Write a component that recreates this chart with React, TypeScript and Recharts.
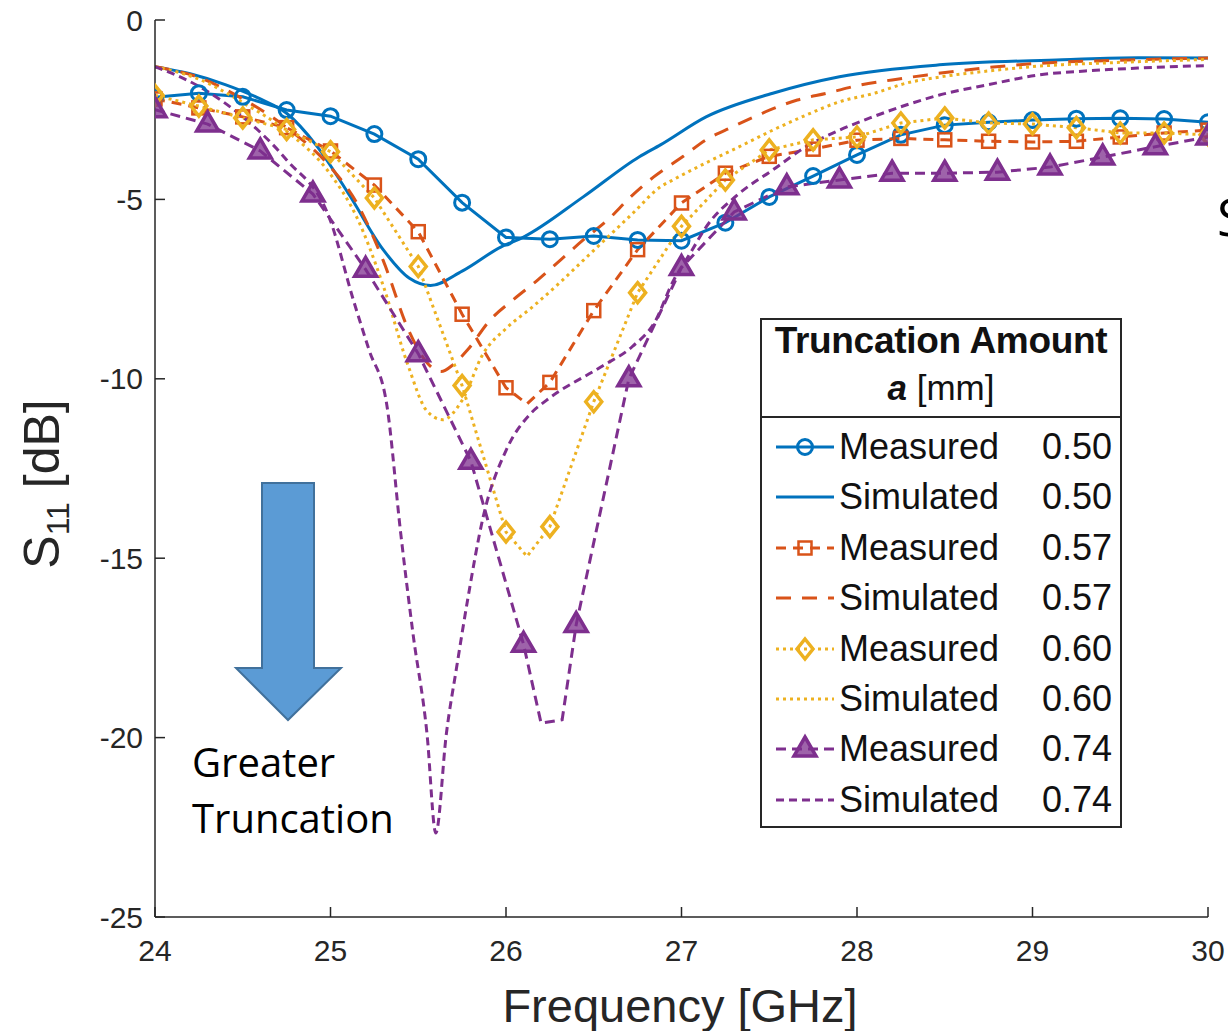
import React from 'react';
import { LineChart, Line, XAxis, YAxis } from 'recharts';

const W = 1228;
const H = 1031;

// axis ticks
const xTicks = [24, 25, 26, 27, 28, 29, 30];
const yTicks = [-25, -20, -15, -10, -5, 0];

// measured a = 0.50, markers every 0.25 GHz
const measFreq = [24, 24.25, 24.5, 24.75, 25, 25.25, 25.5, 25.75, 26, 26.25, 26.5, 26.75, 27, 27.25, 27.5, 27.75, 28, 28.25, 28.5, 28.75, 29, 29.25, 29.5, 29.75, 30];
const meas050 = [-2.15, -2.04, -2.14, -2.51, -2.68, -3.18, -3.88, -5.09, -6.06, -6.11, -6.02, -6.13, -6.15, -5.65, -4.93, -4.35, -3.76, -3.2, -2.93, -2.85, -2.79, -2.75, -2.74, -2.76, -2.85];

// measured a = 0.57 / 0.60 (extra point in the dip, no marker)
const measFreqDip = [24, 24.25, 24.5, 24.75, 25, 25.25, 25.5, 25.75, 26, 26.12, 26.25, 26.5, 26.75, 27, 27.25, 27.5, 27.75, 28, 28.25, 28.5, 28.75, 29, 29.25, 29.5, 29.75, 30];
const meas057 = [-2.2, -2.45, -2.7, -3.0, -3.65, -4.6, -5.9, -8.2, -10.25, -10.7, -10.1, -8.1, -6.4, -5.1, -4.27, -3.8, -3.6, -3.35, -3.3, -3.34, -3.38, -3.4, -3.38, -3.26, -3.15, -3.07];
const meas060 = [-2.1, -2.4, -2.73, -3.05, -3.67, -4.96, -6.87, -10.19, -14.27, -14.95, -14.12, -10.64, -7.6, -5.75, -4.46, -3.62, -3.34, -3.26, -2.87, -2.73, -2.87, -2.9, -3.0, -3.15, -3.15, -3.2];

// measured a = 0.74, markers every 0.3 GHz
const meas074Freq = [24, 24.3, 24.6, 24.9, 25.2, 25.5, 25.8, 26.1, 26.2, 26.32, 26.4, 26.7, 27, 27.3, 27.6, 27.9, 28.2, 28.5, 28.8, 29.1, 29.4, 29.7, 30];
const meas074 = [-2.5, -2.9, -3.65, -4.85, -6.95, -9.3, -12.3, -17.4, -19.6, -19.5, -16.85, -10.0, -6.9, -5.35, -4.65, -4.46, -4.27, -4.27, -4.24, -4.1, -3.82, -3.53, -3.26];

// simulated
const sim050Freq = [24, 24.2, 24.4, 24.6, 24.75, 24.92, 25.11, 25.3, 25.45, 25.57, 25.75, 25.97, 26.1, 26.44, 26.76, 26.88, 27.14, 27.52, 27.9, 28.47, 29.17, 29.6, 30];
const sim050 = [-1.3, -1.5, -1.8, -2.2, -2.6, -3.5, -4.9, -6.4, -7.2, -7.4, -7.0, -6.33, -6.05, -4.93, -3.81, -3.48, -2.7, -2.04, -1.58, -1.25, -1.11, -1.05, -1.06];

const sim057Freq = [24, 24.25, 24.5, 24.75, 25, 25.15, 25.3, 25.45, 25.55, 25.63, 25.7, 25.78, 25.91, 26.04, 26.18, 26.31, 26.44, 26.58, 26.71, 26.84, 27.01, 27.14, 27.29, 27.46, 27.66, 27.83, 28.02, 28.2, 28.4, 28.7, 29, 29.5, 30];
const sim057 = [-1.3, -1.6, -2.2, -3.0, -4.1, -5.1, -6.7, -8.7, -9.55, -9.8, -9.6, -9.2, -8.36, -7.8, -7.25, -6.69, -6.13, -5.57, -4.93, -4.38, -3.8, -3.34, -2.98, -2.6, -2.23, -2.04, -1.81, -1.67, -1.53, -1.35, -1.22, -1.12, -1.06];

const sim060Freq = [24, 24.25, 24.5, 24.75, 25, 25.15, 25.3, 25.44, 25.55, 25.64, 25.75, 25.87, 26, 26.15, 26.3, 26.44, 26.58, 26.72, 26.88, 26.95, 27.14, 27.33, 27.52, 27.71, 27.9, 28.1, 28.28, 28.47, 28.75, 29, 29.5, 30];
const sim060 = [-1.3, -1.65, -2.3, -3.1, -4.3, -5.5, -7.4, -9.6, -10.9, -11.14, -10.6, -9.3, -8.6, -8.0, -7.35, -6.7, -6.05, -5.4, -4.65, -4.46, -3.98, -3.53, -3.07, -2.65, -2.28, -2.04, -1.76, -1.59, -1.42, -1.3, -1.18, -1.1];

const sim074Freq = [24, 24.25, 24.5, 24.75, 25, 25.13, 25.22, 25.32, 25.4, 25.47, 25.55, 25.6, 25.66, 25.72, 25.78, 25.87, 26, 26.14, 26.23, 26.54, 26.72, 26.85, 26.95, 27.05, 27.14, 27.33, 27.52, 27.71, 27.9, 28.09, 28.28, 28.47, 28.75, 29.04, 29.3, 29.6, 30];
const sim074 = [-1.3, -1.85, -2.7, -3.9, -5.6, -7.8, -9.2, -10.7, -14.3, -17.1, -19.9, -22.66, -19.9, -18.0, -16.2, -13.85, -12.0, -10.97, -10.6, -9.67, -9.1, -8.4, -7.3, -6.5, -5.77, -4.83, -4.18, -3.53, -3.07, -2.7, -2.37, -2.09, -1.8, -1.53, -1.42, -1.34, -1.27];

// legend text
const legendKinds = ['Measured', 'Simulated', 'Measured', 'Simulated', 'Measured', 'Simulated', 'Measured', 'Simulated'];
const legendAmounts = ['0.50', '0.50', '0.57', '0.57', '0.60', '0.60', '0.74', '0.74'];

const BLUE = '#0072BD';
const ORANGE = '#D95319';
const YELLOW = '#EDB120';
const PURPLE = '#7E2F8E';
const AXIS = '#262626';
const SANS = '"Liberation Sans", Arial, sans-serif';
const NARROW = '"Liberation Sans Narrow", "Arial Narrow", "Liberation Sans", Arial, sans-serif';
const CALIBRI = '"Open Sans", "Noto Sans", sans-serif';

const onGrid = (f: number, step: number) => {
  const k = (f - 24) / step;
  return Math.abs(k - Math.round(k)) < 1e-6;
};
const pts = (fs: number[], vs: number[], step = 0) =>
  fs.map((f, i) => ({ f, v: vs[i], m: step > 0 && onGrid(f, step) }));

const Marker = ({ kind, cx, cy, color }: any) => {
  if (kind === 'circle')
    return <circle cx={cx} cy={cy} r={7.5} fill="none" stroke={color} strokeWidth={3} />;
  if (kind === 'square')
    return <rect x={cx - 6.5} y={cy - 6.5} width={13} height={13} fill="none" stroke={color} strokeWidth={2.5} />;
  if (kind === 'diamond')
    return (
      <polygon
        points={`${cx},${cy - 10} ${cx + 8},${cy} ${cx},${cy + 10} ${cx - 8},${cy}`}
        fill="none"
        stroke={color}
        strokeWidth={3.5}
      />
    );
  if (kind === 'triangle')
    return (
      <polygon
        points={`${cx},${cy - 12} ${cx + 11},${cy + 7} ${cx - 11},${cy + 7}`}
        fill={color}
        fillOpacity={0.75}
        stroke={color}
        strokeWidth={3.5}
      />
    );
  return null;
};

const makeDot = (kind: string, color: string) => (p: any) => {
  const { cx, cy, payload, index } = p;
  if (!kind || !payload || !payload.m || cx == null) return <g key={`n${index}`} />;
  return (
    <g key={`m${index}`}>
      <Marker kind={kind} cx={cx} cy={cy} color={color} />
    </g>
  );
};

const series = [
  { id: 'm050', color: BLUE, dash: undefined, marker: 'circle', curve: 'linear', data: pts(measFreq, meas050, 0.25) },
  { id: 's050', color: BLUE, dash: undefined, marker: '', curve: 'monotone', data: pts(sim050Freq, sim050) },
  { id: 'm057', color: ORANGE, dash: '10 7', marker: 'square', curve: 'linear', data: pts(measFreqDip, meas057, 0.25) },
  { id: 's057', color: ORANGE, dash: '15 11', marker: '', curve: 'monotone', data: pts(sim057Freq, sim057) },
  { id: 'm060', color: YELLOW, dash: '3 4', marker: 'diamond', curve: 'linear', data: pts(measFreqDip, meas060, 0.25) },
  { id: 's060', color: YELLOW, dash: '3 4', marker: '', curve: 'monotone', data: pts(sim060Freq, sim060) },
  { id: 'm074', color: PURPLE, dash: '10 6', marker: 'triangle', curve: 'linear', data: pts(meas074Freq, meas074, 0.3) },
  { id: 's074', color: PURPLE, dash: '8 5', marker: '', curve: 'monotone', data: pts(sim074Freq, sim074) },
];

const LegendBox = () => (
  <div
    style={{
      position: 'absolute',
      left: 760,
      top: 318,
      width: 358,
      height: 506,
      border: '2px solid #262626',
      background: '#fff',
      fontFamily: SANS,
      color: '#111',
    }}
  >
    <div style={{ position: 'absolute', left: 0, width: 358, top: 0, textAlign: 'center', fontSize: 37, fontWeight: 'bold', letterSpacing: -0.3 }}>
      Truncation Amount
    </div>
    <div style={{ position: 'absolute', left: 0, width: 358, top: 48, textAlign: 'center', fontSize: 35 }}>
      <b><i>a</i></b> [mm]
    </div>
    <div style={{ position: 'absolute', left: 0, width: 358, top: 96, height: 0, borderTop: '2px solid #262626' }} />
    {series.map((s, i) => (
      <div key={s.id} style={{ position: 'absolute', left: 0, top: 106 + i * 50.4, width: 358, height: 42 }}>
        <svg width={62} height={42} style={{ position: 'absolute', left: 12, top: 0 }}>
          <line x1={2} y1={21} x2={60} y2={21} stroke={s.color} strokeWidth={3} strokeDasharray={s.dash} />
          {s.marker && <Marker kind={s.marker} cx={31} cy={21} color={s.color} />}
        </svg>
        <span style={{ position: 'absolute', left: 77, top: 0, fontSize: 36, lineHeight: '42px' }}>{legendKinds[i]}</span>
        <span style={{ position: 'absolute', right: 8, top: 0, fontSize: 36, lineHeight: '42px' }}>{legendAmounts[i]}</span>
      </div>
    ))}
  </div>
);

export default function App() {
  return (
    <div style={{ position: 'absolute', left: 0, top: 0, width: W, height: H, overflow: 'hidden', background: '#fff' }}>
      <LineChart width={W} height={H} margin={{ top: 20, right: 20, bottom: 54, left: 95 }}>
        <XAxis
          dataKey="f"
          type="number"
          domain={[24, 30]}
          ticks={xTicks}
          allowDataOverflow
          height={60}
          stroke={AXIS}
          strokeWidth={1.5}
          tickSize={-10}
          tickMargin={33}
          tick={{ fill: AXIS, fontSize: 30, fontFamily: NARROW }}
        />
        <YAxis
          dataKey="v"
          type="number"
          domain={[-25, 0]}
          ticks={yTicks}
          allowDataOverflow
          width={60}
          stroke={AXIS}
          strokeWidth={1.5}
          tickSize={-10}
          tickMargin={22}
          tick={{ fill: AXIS, fontSize: 30, fontFamily: NARROW }}
        />
        {series.map((s) => (
          <Line
            key={s.id}
            data={s.data}
            dataKey="v"
            type={s.curve as any}
            stroke={s.color}
            strokeWidth={3}
            strokeDasharray={s.dash}
            dot={makeDot(s.marker, s.color)}
            activeDot={false}
            legendType="none"
            isAnimationActive={false}
          />
        ))}
      </LineChart>

      <svg width={W} height={H} style={{ position: 'absolute', left: 0, top: 0, pointerEvents: 'none' }}>
        <text x={680} y={1022} textAnchor="middle" fontSize={47} fill={AXIS} fontFamily={NARROW}>
          Frequency [GHz]
        </text>
        <text transform="translate(59,484) rotate(-90)" textAnchor="middle" fontSize={50} fill={AXIS} fontFamily={SANS}>
          S<tspan fontSize={32} dy={10}>11</tspan>
          <tspan dy={-10}> [dB]</tspan>
        </text>
        <polygon
          points="262,483 314,483 314,668 341,668 288,720 236,668 262,668"
          fill="#5B9BD5"
          stroke="#41719C"
          strokeWidth={2}
        />
        <text x={192} y={777} fontSize={40} fill="#000" fontFamily={CALIBRI}>
          Greater
        </text>
        <text x={192} y={833} fontSize={40} fill="#000" fontFamily={CALIBRI}>
          Truncation
        </text>
        <text x={1217} y={236} fontSize={52} fill="#000" fontFamily={CALIBRI}>
          S
        </text>
      </svg>
      <LegendBox />
    </div>
  );
}
